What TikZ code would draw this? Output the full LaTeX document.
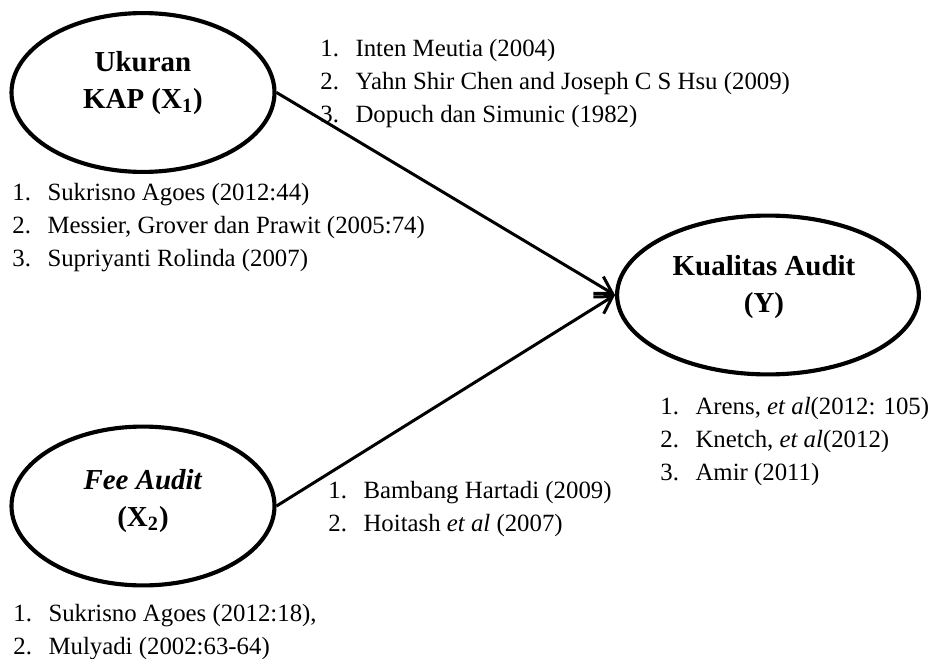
\documentclass[tikz,border=0pt]{standalone}
\usepackage{fontspec}
\setmainfont{Liberation Serif}
\usetikzlibrary{shapes.geometric,arrows.meta}
\newcommand{\refno}[1]{\makebox[17pt][l]{#1.}}

\begin{document}
\begin{tikzpicture}[x=0.017cm, y=-0.017cm,
    var/.style={draw, ellipse, line width=2pt, minimum width=4.47cm, minimum height=2.7cm, inner sep=0pt},
    vartext/.style={font=\fontsize{14pt}{17.5pt}\selectfont\bfseries, align=center},
    reflist/.style={font=\fontsize{12pt}{16pt}\selectfont, align=left, anchor=north west, inner sep=0pt},
    link/.style={line width=1.45pt, -{Straight Barb[length=8pt,width=9.5pt]}}]
  \useasboundingbox (0,0) rectangle (930,659);
  % variables
  \node [var] (kap) at (143, 92.5) {};
  \node [var] (fee) at (143, 506) {};
  \node [var, minimum width=5.13cm] (ka) at (768, 295) {};
  \node [vartext] (kapT) at (143, 83) {Ukuran\\KAP (X\textsubscript{1})};
  \node [vartext] (feeT) at (143, 501) {\textit{Fee Audit}\\(X\textsubscript{2})};
  \node [vartext] (kaT) at (764, 287) {Kualitas Audit\\(Y)};
  % references
  \node [reflist] (kapRefA) at (320, 39) {\refno{1}Inten Meutia (2004)\\
    \refno{2}Yahn Shir Chen and Joseph C S Hsu (2009)\\
    \refno{3}Dopuch dan Simunic (1982)};
  \node [reflist] (kapRefB) at (12, 183) {\refno{1}Sukrisno Agoes (2012:44)\\
    \refno{2}Messier, Grover dan Prawit (2005:74)\\
    \refno{3}Supriyanti Rolinda (2007)};
  \node [reflist] (kaRef) at (660, 397) {\refno{1}Arens, \textit{et al}(2012: 105)\\
    \refno{2}Knetch, \textit{et al}(2012)\\
    \refno{3}Amir (2011)};
  \node [reflist] (feeRefA) at (328, 481) {\refno{1}Bambang Hartadi (2009)\\
    \refno{2}Hoitash \textit{et al} (2007)};
  \node [reflist] (feeRefB) at (13, 604) {\refno{1}Sukrisno Agoes (2012:18),\\
    \refno{2}Mulyadi (2002:63-64)};
  % links
  \draw [link] (kap.east) -- (ka.west);
  \draw [link] (fee.east) -- (ka.west);
\end{tikzpicture}
\end{document}
